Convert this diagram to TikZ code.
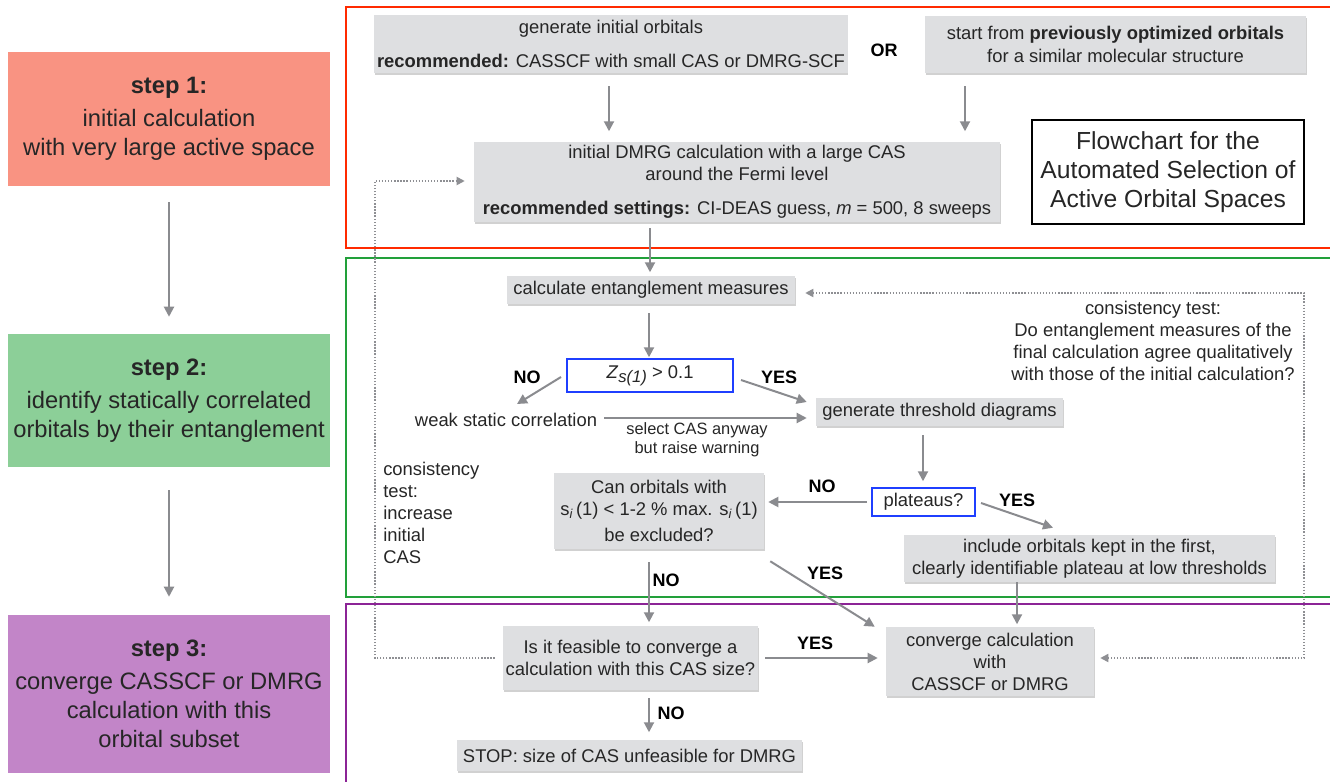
\documentclass[tikz,border=0pt]{standalone}
\usepackage{fontspec}
\setmainfont{Liberation Sans}
\usetikzlibrary{arrows.meta,calc,shadows}
\definecolor{stepA}{HTML}{F99382}
\definecolor{stepB}{HTML}{8CCF98}
\definecolor{stepC}{HTML}{C285C8}
\definecolor{frameR}{HTML}{FF2A00}
\definecolor{frameG}{HTML}{22A03A}
\definecolor{frameP}{HTML}{8C2496}
\definecolor{boxgray}{HTML}{DEDFE1}
\definecolor{arrgray}{HTML}{8A8B8F}
\definecolor{dotgray}{HTML}{8E8F93}
\definecolor{dblue}{HTML}{1F3FFF}
\definecolor{txt}{HTML}{262626}
\newcommand\fsbody{\fontsize{13.8}{16.5}\selectfont}
\newcommand\fsstep{\fontsize{17.8}{21.8}\selectfont}
\newcommand\fsflow{\fontsize{18.5}{21.8}\selectfont}
\newcommand\fssmall{\fontsize{12.3}{14.3}\selectfont}
\newcommand\fslab{\fontsize{13.5}{16}\selectfont}
\begin{document}
\begin{tikzpicture}[x=0.75pt,y=-0.75pt,
  bw/.style={minimum width=#1*0.75pt},
  bh/.style={minimum height=#1*0.75pt},
  stepbox/.style={inner sep=0pt, align=center, font=\fsstep, text=txt},
  gbox/.style={fill=boxgray, inner sep=2pt, align=center, font=\fsbody, text=txt,
     drop shadow={shadow xshift=0.6pt, shadow yshift=-1.2pt, opacity=0.3, fill=black!60}},
  bbox/.style={draw=dblue, line width=1.5pt, fill=white, inner sep=2pt, align=center, font=\fsbody, text=txt},
  plain/.style={inner sep=0pt, align=center, font=\fsbody, text=txt},
  lab/.style={inner sep=0pt, font=\fslab\bfseries},
  arr/.style={draw=arrgray, line width=1.5pt, -{Triangle[length=7.5pt,width=7.5pt]}},
  dotl/.style={draw=dotgray, line width=1.3pt, dash pattern=on 1pt off 1.3pt},
  frame/.style={line width=1.5pt}
]
\useasboundingbox (0,0) rectangle (1330,781);
\clip (0,0) rectangle (1330,781);

% frames
\draw[frame, draw=frameR] (346,7) rectangle (1345,248);
\draw[frame, draw=frameG] (346,258) rectangle (1345,597);
\draw[frame, draw=frameP] (346,604) rectangle (1345,800);

% step boxes
\node[stepbox, fill=stepA, bw=322, bh=134] (s1) at (169,119)
  {\textbf{step 1:}\\[3pt] initial calculation\\ with very large active space};
\node[stepbox, fill=stepB, bw=322, bh=133] (s2) at (169,400.5)
  {\textbf{step 2:}\\[3pt] identify statically correlated\\ orbitals by their entanglement};
\node[stepbox, fill=stepC, bw=322, bh=158] (s3) at (169,694)
  {\textbf{step 3:}\\[3pt] converge CASSCF or DMRG\\ calculation with this\\ orbital subset};
\draw[arr] ($(s1.south)+(0,16)$) -- ($(s2.north)+(0,-17)$);
\draw[arr] ($(s2.south)+(0,23)$) -- ($(s3.north)+(0,-18)$);

% top section
\node[gbox, bw=472, bh=58] (gen) at (611,44)
  {generate initial orbitals\\[9pt] \textbf{recommended:} CASSCF with small CAS or DMRG-SCF};
\node[lab] (or) at (884,50) {OR};
\node[gbox, bw=381, bh=57] (start) at (1115.5,44.5)
  {start from \textbf{previously optimized orbitals}\\[1pt] for a similar molecular structure};
\node[gbox, bw=526, bh=80] (dmrg) at (737,182)
  {initial DMRG calculation with a large CAS\\ around the Fermi level\\[9pt]
   \textbf{recommended settings:} CI-DEAS guess, \textit{m} = 500, 8 sweeps};
\node[draw=black, line width=1.5pt, fill=white, inner sep=2pt, align=center,
      font=\fsflow, text=txt, bw=272, bh=104] (flow) at (1168,172)
  {Flowchart for the\\ Automated Selection of\\ Active Orbital Spaces};
\draw[arr] ($(gen.south)+(-2,13)$) -- ++(0,45);
\draw[arr] ($(start.south)+(-150.5,13)$) -- ++(0,45);

% middle section
\node[gbox, bw=288, bh=28] (calc) at (651,290) {calculate entanglement measures};
\draw[arr] ($(dmrg.south)+(-87,6)$) -- ++(0,44);
\node[bbox, bw=166, bh=33] (Z) at (650,375.5)
  {\textit{Z}\raisebox{-0.45ex}{\fontsize{12.5}{12.5}\selectfont\itshape s(1)} > 0.1};
\draw[arr] ($(calc.south)+(-2,9)$) -- ++(0,44);
\node[plain] (weak) at (506,420) {weak static correlation};
\node[plain, font=\fssmall] (sel) at (697,440) {select CAS anyway\\ but raise warning};
\node[gbox, bw=247, bh=28] (gth) at (939.5,412) {generate threshold diagrams};
\node[lab] (noA) at (527,377) {NO};
\node[lab] (yesA) at (779,377) {YES};
\draw[arr] ($(Z.west)+(-5,1.5)$) -- ($(weak.center)+(11,-16)$);
\draw[arr] ($(Z.east)+(7,4.5)$) -- ($(gth.west)+(-9,-10)$);
\draw[arr] ($(weak.east)+(7,-2)$) -- ($(gth.west)+(-9,6)$);

\node[bbox, bw=103, bh=28] (plat) at (923.5,502) {plateaus?};
\draw[arr] ($(gth.south)+(-16.5,9)$) -- ++(0,46);
\node[gbox, bw=210, bh=76] (can) at (659,511)
  {Can orbitals with\\ s\textsubscript{\itshape i}\,(1) < 1-2 \% max. s\textsubscript{\itshape i}\,(1)\\[3pt] be excluded?};
\node[gbox, bw=371, bh=47] (inc) at (1089.5,558.5)
  {include orbitals kept in the first,\\ clearly identifiable plateau at low thresholds};
\node[lab] (noB) at (822,486) {NO};
\node[lab] (yesB) at (1017,500) {YES};
\draw[arr] ($(plat.west)+(-4,0)$) -- ($(can.east)+(4,-9)$);
\draw[arr] ($(plat.east)+(5,1)$) -- ($(inc.north)+(-36.5,-7)$);

\node[plain, anchor=west, align=left] (ctl) at (383,513)
  {consistency\\ test:\\ increase\\ initial\\ CAS};
\node[plain] (ctr) at (1153,341)
  {consistency test:\\ Do entanglement measures of the\\ final calculation agree qualitatively\\ with those of the initial calculation?};

% bottom section
\node[gbox, bw=251, bh=64] (feas) at (630.5,658)
  {Is it feasible to converge a\\ calculation with this CAS size?};
\node[gbox, bw=208, bh=69] (conv) at (990,661.5)
  {converge calculation\\ with\\ CASSCF or DMRG};
\node[gbox, bw=345, bh=31] (stop) at (629.5,755.5)
  {STOP: size of CAS unfeasible for DMRG};
\node[lab] (noC) at (666,580) {NO};
\node[lab] (yesC) at (825,573) {YES};
\node[lab] (yesD) at (815,643) {YES};
\node[lab] (noD) at (671,713) {NO};
\draw[arr] ($(inc.south)+(-72.5,0)$) -- ++(0,42);
\draw[arr] ($(can.south)+(-10,13)$) -- ++(0,60);
\draw[arr] ($(can.south east)+(6,12)$) -- ($(conv.north west)+(-11,0)$);
\draw[arr] ($(feas.east)+(7,0)$) -- ($(conv.west)+(-8,-3.5)$);
\draw[arr] ($(feas.south)+(18.5,8)$) -- ++(0,34);

% dotted feedback loops
\draw[dotl, -{Triangle[length=6pt,width=6pt]}] ($(feas.west)+(-8,0)$) -- ++(-120,0) |- ($(dmrg.west)+(-9,-1)$);
\draw[dotl, {Triangle[length=6pt,width=6pt]}-{Triangle[length=6pt,width=6pt]}]
  ($(calc.east)+(10,3)$) -- ++(499,0) |- ($(conv.east)+(6,-3.5)$);
\end{tikzpicture}
\end{document}
